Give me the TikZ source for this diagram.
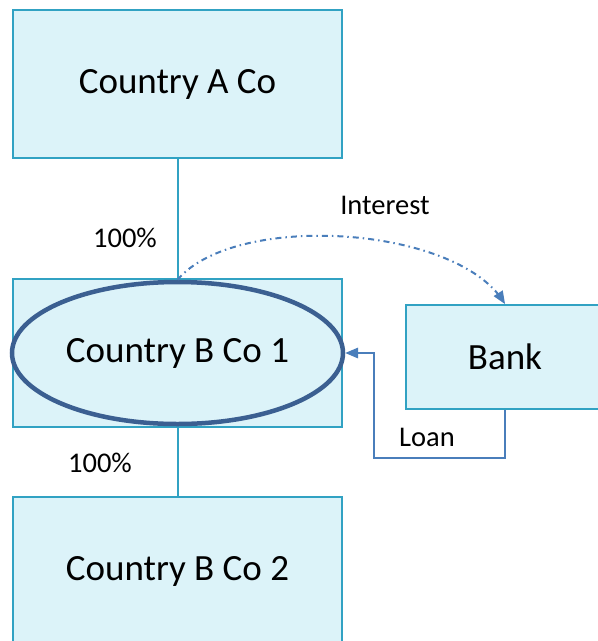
\documentclass[tikz,border=0pt]{standalone}
\usepackage{fontspec}
\setmainfont{Carlito}
\usetikzlibrary{shapes.geometric, arrows}
\definecolor{boxline}{HTML}{31A2C3}
\definecolor{boxfill}{HTML}{DCF3F9}
\definecolor{ovalline}{HTML}{3B5F91}
\definecolor{flowline}{HTML}{4A7EBB}
\tikzstyle{company} = [rectangle, minimum width=329pt, minimum height=148pt, text centered, draw=boxline, fill=boxfill, line width=2pt, font=\fontsize{37}{44}\selectfont]
\tikzstyle{lender} = [rectangle, minimum width=198pt, minimum height=104pt, text centered, draw=boxline, fill=boxfill, line width=2pt, font=\fontsize{37}{44}\selectfont]
\tikzstyle{focus} = [ellipse, minimum width=331pt, minimum height=142pt, text centered, draw=ovalline, fill=boxfill, line width=4.5pt, font=\fontsize{37}{44}\selectfont]
\tikzstyle{owner} = [draw=boxline, line width=2pt]
\tikzstyle{flow} = [draw=flowline, line width=2pt, ->, >=triangle 45]
\tikzstyle{tag} = [font=\fontsize{28.5}{34}\selectfont]

\begin{document}
\begin{tikzpicture}[x=1pt, y=-1pt]
        \useasboundingbox (0,0) rectangle (598,641);
        \clip (0,0) rectangle (598,641);
        \node (ctyA) [company] at (177.5,84) {Country A Co};
        \node (ctyB1) [company] at (177.5,352.5) {};
        \node (ctyB1oval) [focus] at (177.5,353) {Country B Co 1};
        \node (ctyB2) [company] at (177.5,571) {Country B Co 2};
        \node (bank) [lender] at (505,357) {Bank};
        \coordinate (loanturn) at (374,458);

        \draw[owner] (ctyA.south) -- (ctyB1.north);
        \draw[owner] (ctyB1.south) -- (ctyB2.north);
        \node[tag] at (125,238) {100\%};
        \node[tag] at (100,463) {100\%};

        \draw[flow, dash pattern=on 6pt off 4pt on 1.5pt off 4pt] (ctyB1oval.north) .. controls (235,212) and (455,225) .. (bank.north);
        \node[tag] at (385,205) {Interest};
        \draw[flow] (bank.south) |- (loanturn) |- (ctyB1oval.east);
        \node[tag] at (427,437) {Loan};
    \end{tikzpicture}
\end{document}
